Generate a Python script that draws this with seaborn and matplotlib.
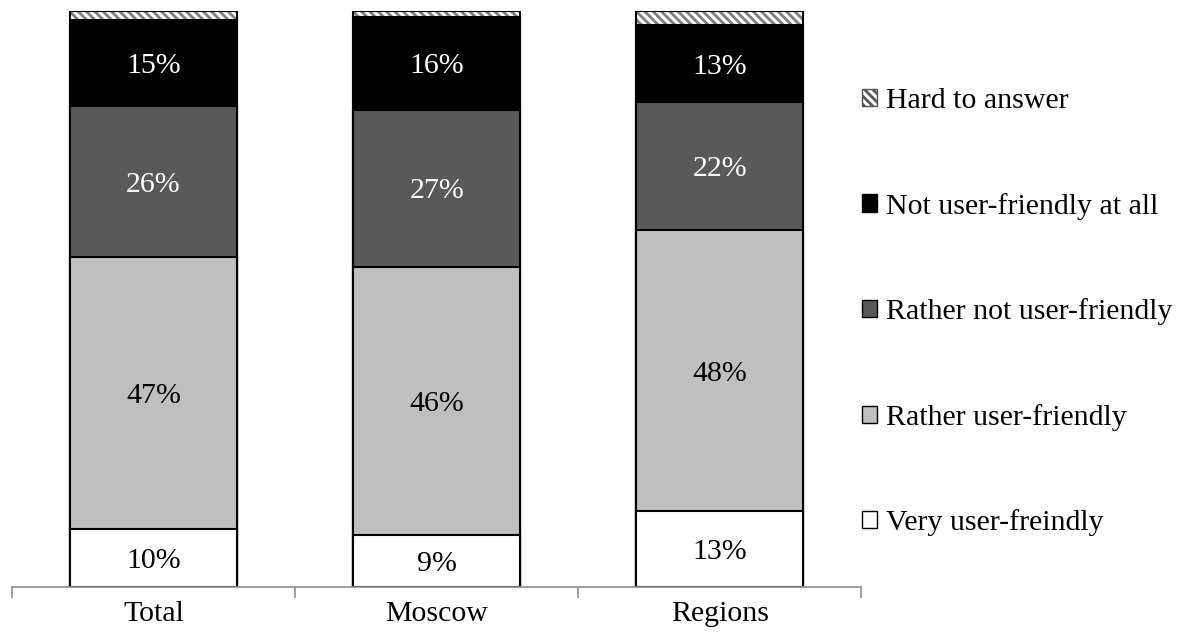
import numpy as np
import pandas as pd
import matplotlib
matplotlib.use("Agg")
import matplotlib.pyplot as plt
from matplotlib.patches import Patch
import seaborn as sns

categories = ["Total", "Moscow", "Regions"]
series_names = ["Very user-freindly", "Rather user-friendly", "Rather not user-friendly",
                "Not user-friendly at all", "Hard to answer"]
very = [10, 9, 13]
rather = [47, 46, 48]
rather_not = [26, 27, 22]
not_at_all = [15, 16, 13]
hard = [1.5, 1, 2.5]

sns.set_theme(style="white")
plt.rcParams['font.family'] = ['Liberation Serif', 'DejaVu Serif']
plt.rcParams['hatch.linewidth'] = 2.0
plt.rcParams['text.color'] = 'black'

series = [very, rather, rather_not, not_at_all, hard]
colors = ["#FFFFFF", "#BFBFBF", "#595959", "#000000", "#FFFFFF"]
text_colors = ["black", "black", "white", "white", None]

vals = np.array(series, dtype=float)
totals = vals.sum(axis=0)
pct = vals / totals * 100
cum = np.cumsum(pct, axis=0)

FS = 21.5

fig = plt.figure(figsize=(11.83, 6.4), dpi=100)
ax = fig.add_axes([0.0101, 0.083, 0.718, 0.9])

width = 0.59
for i in range(len(series) - 1, -1, -1):
    df = pd.DataFrame({"cat": categories, "val": cum[i]})
    if i == len(series) - 1:
        sns.barplot(data=df, x="cat", y="val", order=categories, color="white",
                    width=width, edgecolor="#7F7F7F", linewidth=0, hatch="\\\\\\\\",
                    saturation=1, ax=ax)
        sns.barplot(data=df, x="cat", y="val", order=categories, fill=False,
                    width=width, edgecolor="black", linewidth=1.5, ax=ax)
    else:
        sns.barplot(data=df, x="cat", y="val", order=categories, color=colors[i],
                    width=width, edgecolor="black", linewidth=1.5, saturation=1, ax=ax)

for i in range(4):
    bottoms = cum[i] - pct[i]
    for j, c in enumerate(categories):
        ax.text(j, bottoms[j] + pct[i][j] / 2, f"{series[i][j]:g}%", ha="center",
                va="center_baseline", color=text_colors[i], fontsize=FS)

ax.set_xlim(-0.5, 2.5)
ax.set_ylim(0, 100)
ax.set_xlabel("")
ax.set_ylabel("")
ax.set_yticks([])
for s in ["top", "right", "left"]:
    ax.spines[s].set_visible(False)
ax.spines["bottom"].set_color("#8C8C8C")
ax.spines["bottom"].set_linewidth(1.2)
ax.set_xticks(range(3))
ax.set_xticklabels(categories, fontsize=FS, color="black")
ax.tick_params(axis="x", which="major", bottom=False, length=0, pad=10)
ax.set_xticks([-0.5, 0.5, 1.5, 2.5], minor=True)
ax.tick_params(axis="x", which="minor", bottom=True, length=8, width=1.2,
               color="#8C8C8C", direction="out")

handles = [
    Patch(facecolor="white", edgecolor="#555555", hatch="\\\\\\\\", label=series_names[4]),
    Patch(facecolor="#000000", edgecolor="black", label=series_names[3]),
    Patch(facecolor="#595959", edgecolor="black", label=series_names[2]),
    Patch(facecolor="#BFBFBF", edgecolor="black", label=series_names[1]),
    Patch(facecolor="#FFFFFF", edgecolor="black", label=series_names[0]),
]
leg = fig.legend(handles=handles, loc="upper left", bbox_to_anchor=(0.7185, 0.881),
                 frameon=False, fontsize=FS, handlelength=0.5, handleheight=0.5,
                 handletextpad=0.3, labelspacing=2.63, borderaxespad=0)
for t in leg.get_texts():
    t.set_color("black")

fig.savefig("out.png", dpi=100)
